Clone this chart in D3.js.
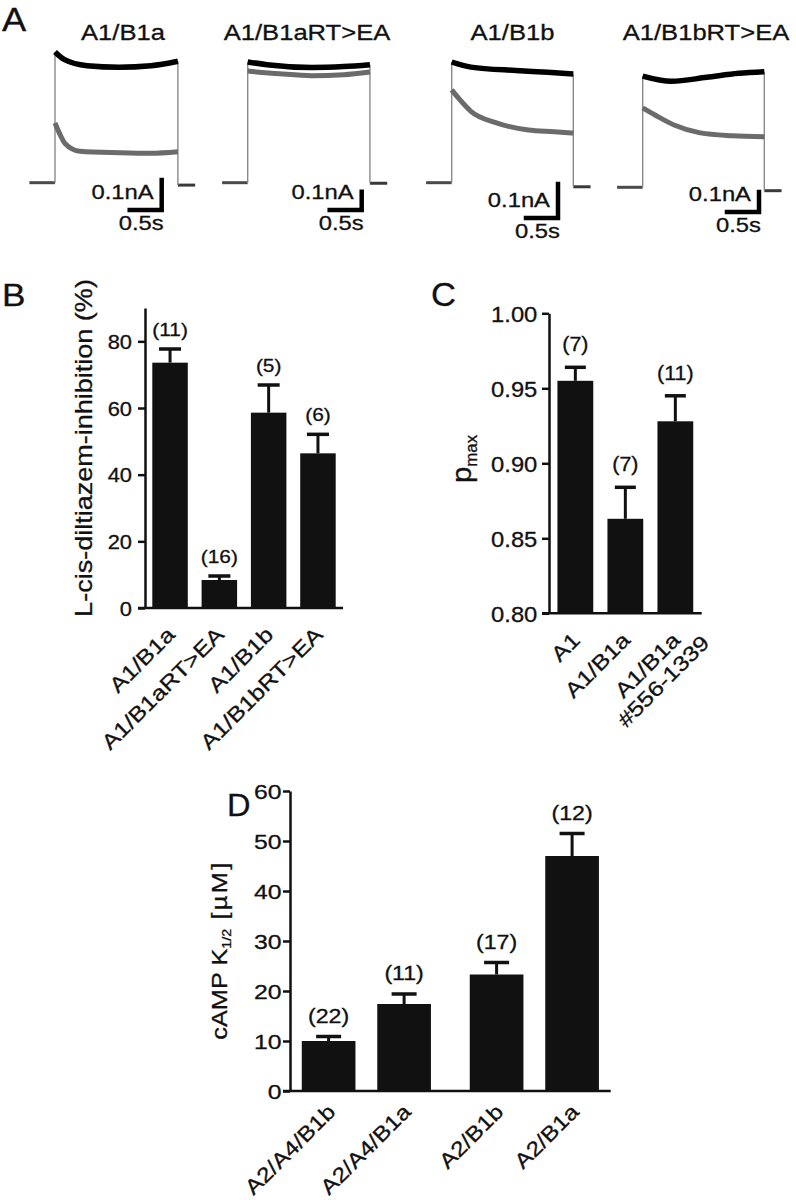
<!DOCTYPE html>
<html><head><meta charset="utf-8">
<script src="https://cdn.jsdelivr.net/npm/d3@7"></script>
<style>
body{margin:0;background:#fff}
svg{display:block}
text{font-family:"Liberation Sans",Arial,Helvetica,sans-serif;fill:#111;stroke:#111;stroke-width:0.3px}
</style>
</head><body>
<svg id="c" width="796" height="1200"></svg>
<script>
// ================= DATA =================
// Panel A: current traces (time in s from pulse onset, current in nA above baseline)
const traceTitles = ["A1/B1a", "A1/B1aRT>EA", "A1/B1b", "A1/B1bRT>EA"];
const a1B1aBlack = [[0,0.436],[0.15,0.41],[0.5,0.39],[1.0,0.385],[1.5,0.39],[1.92,0.405]];
const a1B1aGray  = [[0,0.199],[0.08,0.16],[0.16,0.13],[0.39,0.105],[1.0,0.10],[1.5,0.098],[1.92,0.103]];
const a1B1aRTBlack = [[0,0.66],[0.3,0.645],[1.0,0.63],[1.5,0.635],[1.91,0.645]];
const a1B1aRTGray  = [[0,0.61],[0.5,0.595],[1.0,0.585],[1.5,0.59],[1.91,0.605]];
const a1B1bBlack = [[0,0.355],[0.3,0.34],[1.0,0.33],[1.5,0.325],[1.9,0.32]];
const a1B1bGray  = [[0,0.273],[0.1,0.25],[0.3,0.21],[0.7,0.176],[1.2,0.155],[1.6,0.15],[1.9,0.146]];
const a1B1bRTBlack = [[0,0.556],[0.45,0.53],[1.0,0.55],[1.5,0.57],[1.9,0.578]];
const a1B1bRTGray  = [[0,0.397],[0.2,0.36],[0.5,0.31],[0.9,0.272],[1.4,0.258],[1.9,0.253]];
const blackTraces = [a1B1aBlack, a1B1aRTBlack, a1B1bBlack, a1B1bRTBlack];
const grayTraces  = [a1B1aGray, a1B1aRTGray, a1B1bGray, a1B1bRTGray];
const pulseEnd = [1.92, 1.91, 1.90, 1.90];              // s
const postBaseline = [-0.008, -0.003, -0.012, -0.017];  // nA
const preStart = -0.4, postTail = 0.27;                 // s
const scaleBarI = 0.1, scaleBarT = 0.5;                 // nA, s
const scaleBarILabel = "0.1nA", scaleBarTLabel = "0.5s";

// Panel B
const bCats  = ["A1/B1a", "A1/B1aRT>EA", "A1/B1b", "A1/B1bRT>EA"];
const bMeans = [73.6, 8.4, 58.6, 46.4];
const bErr   = [4.1, 1.2, 8.3, 5.7];
const bN     = ["(11)", "(16)", "(5)", "(6)"];
const bTicks = [0, 20, 40, 60, 80];

// Panel C
const cCats  = [["A1"], ["A1/B1a"], ["A1/B1a", "#556-1339"]];
const cMeans = [0.955, 0.863, 0.928];
const cErr   = [0.009, 0.021, 0.017];
const cN     = ["(7)", "(7)", "(11)"];
const cTicks = [0.80, 0.85, 0.90, 0.95, 1.00];

// Panel D
const dCats   = ["A2/A4/B1b", "A2/A4/B1a", "A2/B1b", "A2/B1a"];
const dGroups = [0, 0, 1, 1];
const dMeans  = [10.0, 17.4, 23.3, 47.0];
const dErr    = [0.9, 2.0, 2.4, 4.5];
const dN      = ["(22)", "(11)", "(17)", "(12)"];
const dTicks  = [0, 10, 20, 30, 40, 50, 60];

// ================= LAYOUT =================
const INK = "#111";
const FONT = '"Liberation Sans",Arial,Helvetica,sans-serif';
const svg = d3.select("#c");
svg.append("rect").attr("width", 796).attr("height", 1200).attr("fill", "#fff");

function label(txt, x, y, size, opts = {}) {
  const sx = opts.sx || 1;
  const t = svg.append("text").attr("font-size", size).text(txt)
    .attr("text-anchor", opts.anchor || "start")
    .attr("transform", `translate(${x},${y})` + (opts.rot ? ` rotate(${opts.rot})` : "") + ` scale(${sx},1)`);
  return t;
}

// panel letters
label("A", 2, 31, 33, {sx: 1.1});
label("B", 2, 306, 32, {sx: 1.1});
label("C", 431, 306, 33, {sx: 1.05});
label("D", 227, 816, 31, {sx: 1.05});

// ---------- Panel A ----------
const PX_PER_S = 64;
const aOrigin = [[55, 182.7], [247.7, 182.7], [451.7, 182.7], [642.7, 187.3]];
const aGain = [300, 183, 340, 200]; // px per nA
const aTitleX = [123, 307, 512.5, 706];
const aBarCorner = [[161.7, 210], [361.7, 210], [558, 218], [759, 212]];
const AS = 1.19; // horizontal stretch of lettering

traceTitles.forEach((title, i) => {
  const [x0, y0] = aOrigin[i];
  const xs = d3.scaleLinear().domain([0, 1]).range([x0, x0 + PX_PER_S]);
  const ys = d3.scaleLinear().domain([0, 1]).range([y0, y0 - aGain[i]]);
  const g = svg.append("g");
  const line = d3.line().x(d => xs(d[0])).y(d => ys(d[1])).curve(d3.curveMonotoneX);
  const straight = d3.line().x(d => xs(d[0])).y(d => ys(d[1]));
  const bl = blackTraces[i], gr = grayTraces[i];
  const tEnd = pulseEnd[i];
  g.append("path").attr("d", straight([[preStart, 0], [0, 0]]))
    .attr("stroke", "#4a4a4a").attr("stroke-width", 3).attr("fill", "none");
  g.append("path").attr("d", straight([[tEnd, postBaseline[i]], [tEnd + postTail, postBaseline[i]]]))
    .attr("stroke", "#3a3a3a").attr("stroke-width", 3).attr("fill", "none");
  g.append("path").attr("d", straight([[0, 0], [0, bl[0][1]]]))
    .attr("stroke", "#8a8a8a").attr("stroke-width", 1.4).attr("fill", "none");
  g.append("path").attr("d", straight([[tEnd, bl[bl.length - 1][1]], [tEnd, postBaseline[i]]]))
    .attr("stroke", "#8a8a8a").attr("stroke-width", 1.4).attr("fill", "none");
  g.append("path").attr("d", line(gr)).attr("stroke", "#6b6b6b").attr("stroke-width", 5)
    .attr("fill", "none").attr("stroke-linejoin", "round");
  g.append("path").attr("d", line(bl)).attr("stroke", "#000").attr("stroke-width", 5.5)
    .attr("fill", "none").attr("stroke-linejoin", "round");
  const [cx, cy] = aBarCorner[i];
  const vLen = ys(0) - ys(scaleBarI);
  const hLen = xs(scaleBarT) - xs(0);
  svg.append("path").attr("d", `M${cx},${cy - vLen}V${cy}H${cx - hLen}`)
    .attr("stroke", "#000").attr("stroke-width", 4.5).attr("fill", "none")
    .attr("stroke-linejoin", "miter").attr("stroke-linecap", "square");
  label(scaleBarILabel, cx - 8, cy - 11, 20, {anchor: "end", sx: AS});
  label(scaleBarTLabel, cx + 2, cy + 20, 20, {anchor: "end", sx: AS});
  label(title, aTitleX[i], 40, 21.5, {anchor: "middle", sx: AS});
});

// ---------- generic bar chart ----------
function barChart(cfg) {
  const {x, y, means, errs, ns, axisX, axisY, ticks, fmt, capW} = cfg;
  const bw = x.bandwidth();
  const cx = i => cfg.xpos(i) + bw / 2;
  const g = svg.append("g");
  const ax = d3.axisLeft(y).tickValues(ticks).tickSize(7).tickSizeOuter(0).tickFormat(fmt);
  const ag = g.append("g").attr("transform", `translate(${axisX},0)`).call(ax);
  ag.selectAll("path,line").attr("stroke", INK).attr("stroke-width", 2.5);
  ag.selectAll("text").attr("font-size", cfg.tickFont).attr("fill", INK).attr("font-family", FONT)
    .attr("dy", "0.36em").attr("x", -cfg.tickGap / cfg.tickSx)
    .attr("transform", `scale(${cfg.tickSx},1)`);
  g.append("line").attr("x1", axisX - 7).attr("x2", x.range()[1] + (cfg.xExtra || 0))
    .attr("y1", axisY).attr("y2", axisY).attr("stroke", INK).attr("stroke-width", 2.5);
  means.forEach((m, i) => {
    g.append("rect").attr("x", cfg.xpos(i)).attr("width", bw)
      .attr("y", y(m)).attr("height", axisY - y(m)).attr("fill", INK);
    const top = y(m + errs[i]);
    g.append("line").attr("x1", cx(i)).attr("x2", cx(i)).attr("y1", y(m)).attr("y2", top)
      .attr("stroke", INK).attr("stroke-width", 3);
    g.append("line").attr("x1", cx(i) - capW / 2).attr("x2", cx(i) + capW / 2)
      .attr("y1", top).attr("y2", top).attr("stroke", INK).attr("stroke-width", 3.5);
    label(ns[i], cx(i), top - cfg.nOff, cfg.nFont, {anchor: "middle", sx: cfg.nSx});
  });
  cfg.cats.forEach((c, i) => {
    const lines = Array.isArray(c) ? c : [c];
    const lg = svg.append("g").attr("transform",
      `translate(${cx(i) + cfg.labDx},${axisY + cfg.labDy}) rotate(-45) scale(${cfg.labSx},1)`);
    const t1 = lg.append("text").attr("text-anchor", "end").attr("font-size", cfg.labFont).text(lines[0]);
    if (lines.length > 1) {
      const w1 = t1.node().getComputedTextLength();
      lg.append("text").attr("text-anchor", "middle").attr("font-size", cfg.labFont)
        .attr("x", -w1 / 2).attr("y", cfg.labFont * 1.08).text(lines[1]);
    }
  });
}

// ---------- Panel B ----------
const bY = d3.scaleLinear().domain([0, 90]).range([608, 308]);
const bX = d3.scaleBand().domain(bCats).range([145, 343]).paddingInner(0.28).paddingOuter(0.148);
barChart({x: bX, y: bY, xpos: i => bX(bCats[i]), cats: bCats, means: bMeans, errs: bErr, ns: bN,
  axisX: 145, axisY: 608, ticks: bTicks, fmt: d3.format("d"), tickFont: 19.5, tickSx: 1.12, tickGap: 13,
  capW: 22, nFont: 19, nSx: 1.1, nOff: 13, labFont: 21, labSx: 1.19, labDx: 6, labDy: 28});
label("L-cis-diltiazem-inhibition (%)", 92, 448, 23.5, {anchor: "middle", rot: -90, sx: 1.15});

// ---------- Panel C ----------
const cY = d3.scaleLinear().domain([0.80, 1.00]).range([613.3, 313.3]);
const cX = d3.scaleBand().domain(d3.range(cCats.length)).range([549, 701.7]).paddingInner(0.284).paddingOuter(0.169);
barChart({x: cX, y: cY, xpos: i => cX(i), cats: cCats, means: cMeans, errs: cErr, ns: cN,
  axisX: 549, axisY: 613.3, ticks: cTicks, fmt: d3.format(".2f"), tickFont: 22, tickSx: 1.08, tickGap: 11.7,
  capW: 21, nFont: 19.5, nSx: 1.1, nOff: 16, labFont: 21, labSx: 1.19, labDx: 6, labDy: 28});
{
  const t = label("p", 471, 459, 28, {anchor: "middle", rot: -90, sx: 1.05});
  t.append("tspan").attr("font-size", 16).attr("dy", 6).text("max");
}

// ---------- Panel D ----------
const dY = d3.scaleLinear().domain([0, 60]).range([1091, 791]);
const groupGap = 17;
const dX = d3.scaleBand().domain(dCats).range([290, 610.7 - groupGap]).paddingInner(0.289).paddingOuter(0.156);
barChart({x: dX, y: dY, xpos: i => dX(dCats[i]) + dGroups[i] * groupGap, cats: dCats, means: dMeans,
  errs: dErr, ns: dN, axisX: 290, axisY: 1091, ticks: dTicks, fmt: d3.format("d"), tickFont: 21, tickSx: 1.18,
  tickGap: 8.5, capW: 25, nFont: 20.5, nSx: 1.13, nOff: 14, labFont: 21, labSx: 1.17, labDx: 8, labDy: 22,
  xExtra: groupGap});
{
  const t = label("cAMP K", 227, 950, 21.5, {anchor: "middle", rot: -90, sx: 1.18});
  t.append("tspan").attr("font-size", 12).attr("dy", 4).text("1/2");
  t.append("tspan").attr("font-size", 21.5).attr("dy", -4).attr("dx", 8).attr("letter-spacing", 2).text("[µM]");
}
</script>
</body></html>
